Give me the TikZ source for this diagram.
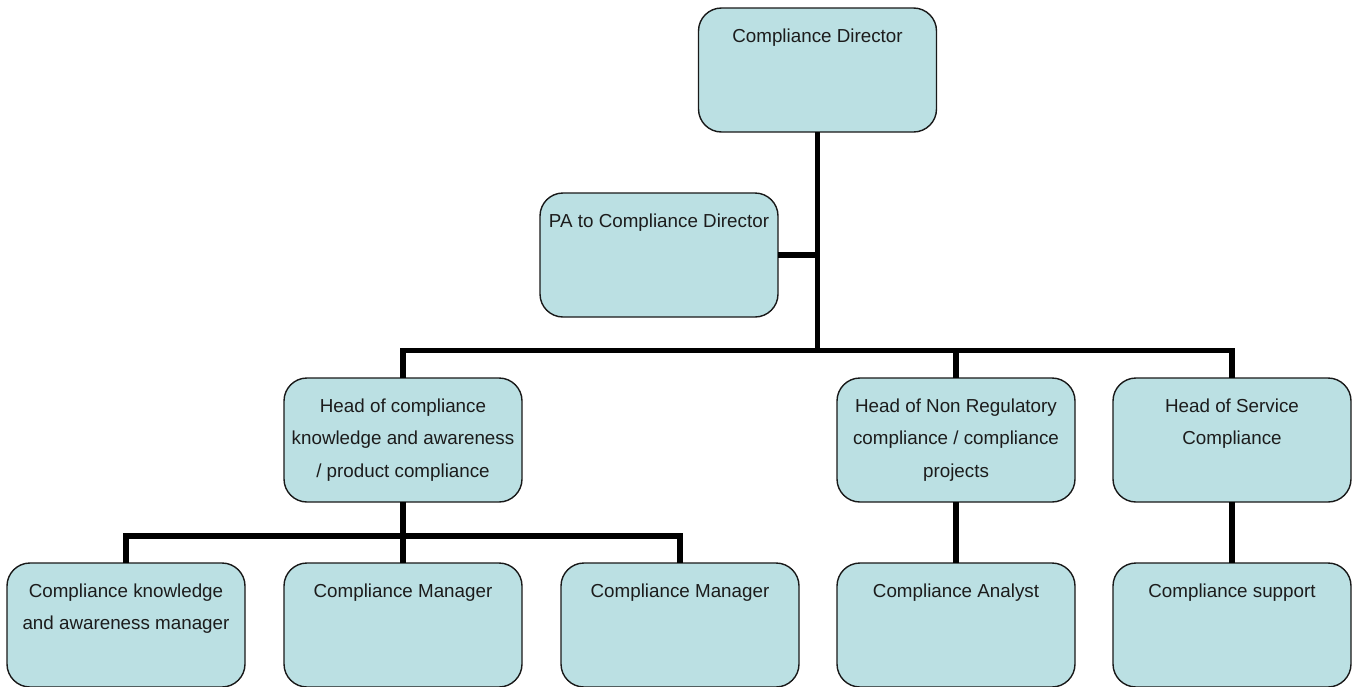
\documentclass[tikz,border=0pt]{standalone}
\usepackage{fontspec}
\setmainfont{Liberation Sans}
\definecolor{boxfill}{RGB}{187,224,227}
\definecolor{boxline}{RGB}{25,25,25}
\definecolor{ink}{RGB}{28,28,28}
% box text: top aligned, first baseline 34pt below the top edge
\newcommand\orgtext[1]{\parbox[t][124pt][t]{238pt}{\centering\fontsize{18.8}{32.5}\selectfont\rule{0pt}{34pt}#1}}
\tikzset{
  orgbox/.style={draw=boxline, line width=1.4pt, fill=boxfill, rounded corners=23pt,
    inner sep=0pt, outer sep=0pt, text=ink, shape=rectangle},
  conn/.style={draw=black, line width=5.8pt, line join=miter, line cap=butt}
}
\begin{document}
\begin{tikzpicture}[x=1pt,y=-1pt]
\useasboundingbox (0,0) rectangle (1359,686);
\fill[white] (0,0) rectangle (1359,686);

% top level
\node[orgbox] (dir) at (817.5,70) {\orgtext{Compliance Director}};
\node[orgbox] (pa)  at (659,255)  {\orgtext{PA to Compliance Director}};

% heads
\node[orgbox] (h1) at (403,440)  {\orgtext{Head of compliance\\knowledge and awareness\\/ product compliance}};
\node[orgbox] (h2) at (956,440)  {\orgtext{Head of Non Regulatory\\compliance / compliance\\projects}};
\node[orgbox] (h3) at (1232,440) {\orgtext{Head of Service\\Compliance}};

% staff
\node[orgbox] (s1) at (126,625)  {\orgtext{Compliance knowledge\\and awareness manager}};
\node[orgbox] (s2) at (403,625)  {\orgtext{Compliance Manager}};
\node[orgbox] (s3) at (680,625)  {\orgtext{Compliance Manager}};
\node[orgbox] (s4) at (956,625)  {\orgtext{Compliance Analyst}};
\node[orgbox] (s5) at (1232,625) {\orgtext{Compliance support}};

% bus lines
\coordinate (bus)  at (817.5,350.5);
\coordinate (bus2) at (403,536);

\path[conn] (dir.south) -- (bus);
\path[conn] (pa.east) -- (pa.east -| dir.south);
\path[conn] (h1.north) |- (bus) -| (h3.north);
\path[conn] (h2.north) -- (h2.north |- bus);

\path[conn] (h1.south) -- (bus2);
\path[conn] (s1.north) |- (bus2) -| (s3.north);
\path[conn] (s2.north) -- (bus2);
\path[conn] (h2.south) -- (s4.north);
\path[conn] (h3.south) -- (s5.north);
\end{tikzpicture}
\end{document}
